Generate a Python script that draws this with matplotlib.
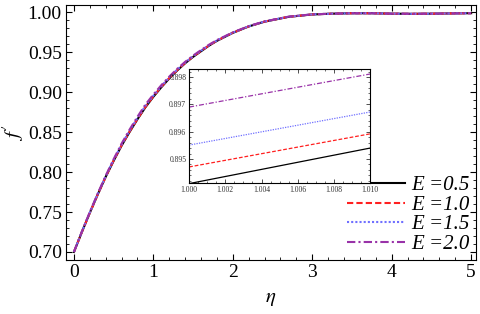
import numpy as np
import matplotlib
matplotlib.use("Agg")
import matplotlib.pyplot as plt
from matplotlib.ticker import MultipleLocator

plt.rcParams['font.family'] = ['Liberation Serif', 'DejaVu Serif']
plt.rcParams['mathtext.fontset'] = 'stix'

# main curves f'(eta) for each E
eta = [0.0, 0.1, 0.2, 0.3, 0.4, 0.5, 0.6, 0.7, 0.8, 0.9, 1.0,
       1.1, 1.2, 1.3, 1.4, 1.5, 1.6, 1.7, 1.8, 1.9, 2.0,
       2.1, 2.2, 2.3, 2.4, 2.5, 2.6, 2.7, 2.8, 2.9, 3.0,
       3.25, 3.5, 3.75, 4.0, 4.25, 4.5, 4.75, 5.0]
tail = [0.998, 0.9985, 0.9985, 0.998, 0.9978, 0.998, 0.9983, 0.9986]
f_E05 = [0.700, 0.725, 0.749, 0.772, 0.794, 0.814, 0.833, 0.850, 0.866, 0.881, 0.8941,
         0.906, 0.917, 0.927, 0.936, 0.944, 0.951, 0.958, 0.964, 0.969, 0.974,
         0.978, 0.982, 0.985, 0.988, 0.990, 0.992, 0.994, 0.995, 0.996, 0.997] + tail
f_E10 = [0.700, 0.725, 0.749, 0.772, 0.794, 0.8145, 0.8335, 0.8505, 0.8665, 0.8815, 0.8947,
         0.9066, 0.9176, 0.9275, 0.9364, 0.9444, 0.9514, 0.9583, 0.9643, 0.9692, 0.9742,
         0.9781, 0.9821, 0.9851, 0.9881, 0.9901, 0.9921, 0.9941, 0.9951, 0.9961, 0.9971] + tail
f_E15 = [0.700, 0.7253, 0.7495, 0.7726, 0.7947, 0.8152, 0.8344, 0.8516, 0.8677, 0.8828, 0.8955,
         0.9073, 0.9182, 0.9281, 0.9369, 0.9448, 0.9518, 0.9586, 0.9645, 0.9694, 0.9743,
         0.9782, 0.9822, 0.9852, 0.9882, 0.9902, 0.9922, 0.9941, 0.9951, 0.9961, 0.9971] + tail
f_E20 = [0.700, 0.7256, 0.7500, 0.7733, 0.7955, 0.8162, 0.8356, 0.8530, 0.8692, 0.8844, 0.8969,
         0.9086, 0.9193, 0.9291, 0.9378, 0.9456, 0.9525, 0.9592, 0.9650, 0.9698, 0.9747,
         0.9785, 0.9824, 0.9854, 0.9883, 0.9903, 0.9923, 0.9942, 0.9952, 0.9962, 0.9971] + tail

# zoomed region near eta = 1
eta_in = [1.000, 1.010]
in_E05 = [0.89410, 0.89540]
in_E10 = [0.89471, 0.89592]
in_E15 = [0.89551, 0.89672]
in_E20 = [0.89690, 0.89811]

labels = ['E =0.5', 'E =1.0', 'E =1.5', 'E =2.0']
styles = [dict(color='black', ls='-', lw=1.5),
          dict(color='#ff2020', ls=(0, (3, 1.5)), lw=1.5),
          dict(color='#7070ff', ls=(0, (1, 1)), lw=1.5),
          dict(color='#9932a8', ls=(0, (4, 1.5, 1, 1.5)), lw=1.5)]

fig = plt.figure(figsize=(4.8, 3.14), dpi=100)
ax = fig.add_axes([0.1375, 0.172, 0.854, 0.812])

for f, lab, st in zip([f_E05, f_E10, f_E15, f_E20], labels, styles):
    ax.plot(eta, f, label=lab, **st)

ax.set_xlim(-0.1, 5.06)
ax.set_ylim(0.690, 1.0088)
ax.xaxis.set_major_locator(MultipleLocator(1))
ax.xaxis.set_minor_locator(MultipleLocator(0.2))
ax.yaxis.set_major_locator(MultipleLocator(0.05))
ax.yaxis.set_minor_locator(MultipleLocator(0.01))
ax.yaxis.set_major_formatter(plt.FormatStrFormatter('%.2f'))
ax.tick_params(which='both', direction='in', top=True, right=True, labelsize=14, pad=3)
ax.tick_params(which='major', length=4, width=0.8)
ax.tick_params(which='minor', length=2, width=0.6)
ax.set_xlabel(r'$\eta$', fontsize=15, labelpad=6)
ax.set_ylabel(r"$f'$", fontsize=15, labelpad=1)

ax.legend(loc='lower right', bbox_to_anchor=(1.03, -0.05), frameon=False,
          prop=dict(size=15, style='italic'), handlelength=2.8,
          handletextpad=0.3, labelspacing=0.0)

# inset
ins = fig.add_axes([0.394, 0.417, 0.377, 0.363])
for f, st in zip([in_E05, in_E10, in_E15, in_E20], styles):
    ins.plot(eta_in, f, color=st['color'], ls=st['ls'], lw=0.9)
ins.set_xlim(1.000, 1.010)
ins.set_ylim(0.89412, 0.89829)
ins.xaxis.set_major_locator(MultipleLocator(0.002))
ins.xaxis.set_minor_locator(MultipleLocator(0.0005))
ins.yaxis.set_major_locator(MultipleLocator(0.001))
ins.yaxis.set_minor_locator(MultipleLocator(0.0002))
ins.xaxis.set_major_formatter(plt.FormatStrFormatter('%.3f'))
ins.yaxis.set_major_formatter(plt.FormatStrFormatter('%.3f'))
ins.tick_params(which='both', direction='in', top=True, right=True,
                labelsize=5.5, pad=2, colors='#333333')
ins.tick_params(which='major', length=3, width=0.6)
ins.tick_params(which='minor', length=1.5, width=0.5)

fig.savefig('out.png', dpi=100)
